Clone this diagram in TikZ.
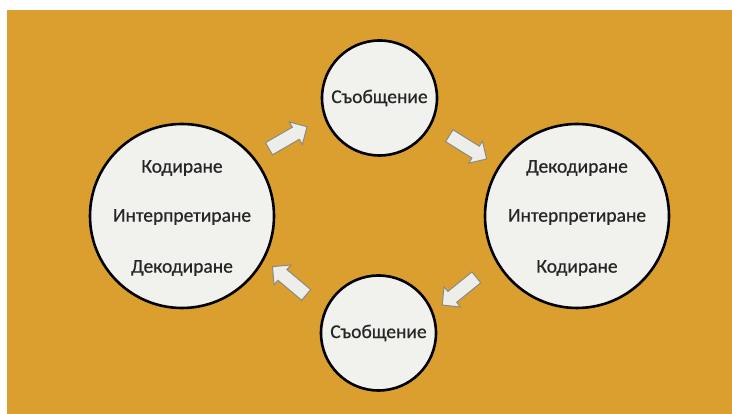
\documentclass[tikz,border=0pt]{standalone}
\usepackage{fontspec}
\setmainfont{Carlito}
\newfontfamily\lblfont{Carlito}[FakeBold=0.6]
\usetikzlibrary{shapes.arrows}
\definecolor{bgorange}{HTML}{DA9F2F}
\definecolor{bubble}{HTML}{F1F1ED}
\definecolor{txt}{HTML}{262626}
\definecolor{arrfill}{HTML}{EDEDE9}
\definecolor{arrline}{HTML}{8A8A80}
\tikzset{
  bubblenode/.style={circle, draw=black, line width=2.6pt, fill=bubble, text=txt,
    align=center, inner sep=0pt, font=\lblfont\fontsize{19.5}{22}\selectfont},
  lbl/.style={text=txt, inner sep=0pt, font=\lblfont\fontsize{19.5}{22}\selectfont},
  blockarrow/.style={single arrow, draw=arrline, line width=1pt, fill=arrfill,
    minimum height=44pt, inner xsep=0pt, inner ysep=6.5pt, single arrow head extend=6pt,
    single arrow head indent=0pt}
}
\begin{document}
\begin{tikzpicture}[x=1pt,y=1pt]
\useasboundingbox (0,0) rectangle (732,414);
\fill[white] (0,0) rectangle (732,414);
\fill[bgorange] (7,0) rectangle (732,404);
% circles (image coords: y = 414 - y_img)
\node[bubblenode, minimum size=115pt] (top) at (379.5,316) {Съобщение};
\node[bubblenode, minimum size=115pt] (bot) at (378.5,81) {Съобщение};
\node[bubblenode, minimum size=184pt] (left) at (182,198) {};
\node[bubblenode, minimum size=184pt] (right) at (577,198) {};
\node[lbl] (l1) at (182,246) {Кодиране};
\node[lbl] (l2) at (182,197) {Интерпретиране};
\node[lbl] (l3) at (182,146) {Декодиране};
\node[lbl] (r1) at (577,246) {Декодиране};
\node[lbl] (r2) at (577,197) {Интерпретиране};
\node[lbl] (r3) at (577,146) {Кодиране};
% block arrows
\node[blockarrow, rotate=30] (a1) at (285,274.5) {};
\node[blockarrow, rotate=-32] (a2) at (465,268.5) {};
\node[blockarrow, rotate=-141] (a3) at (462,125) {};
\node[blockarrow, rotate=140] (a4) at (292,131) {};
\end{tikzpicture}
\end{document}
